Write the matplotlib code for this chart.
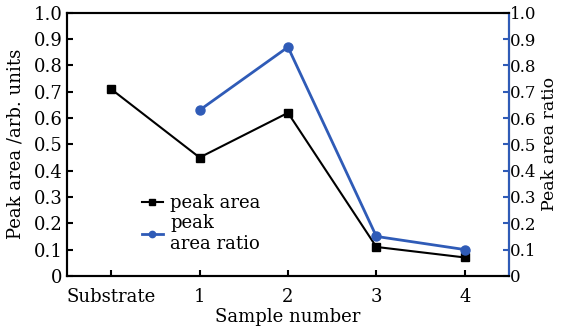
import matplotlib.pyplot as plt

categories = ["Substrate", "1", "2", "3", "4"]
peak_area = [0.71, 0.45, 0.62, 0.11, 0.07]
ratio_x = [1, 2, 3, 4]
peak_area_ratio = [0.63, 0.87, 0.15, 0.10]
yticks = [0, 0.1, 0.2, 0.3, 0.4, 0.5, 0.6, 0.7, 0.8, 0.9, 1.0]
ytick_labels = ["0", "0.1", "0.2", "0.3", "0.4", "0.5", "0.6", "0.7", "0.8", "0.9", "1.0"]

blue = "#2f5bb7"
plt.rcParams["font.family"] = ["DejaVu Serif"]
plt.rcParams["font.size"] = 13

fig = plt.figure(figsize=(5.63, 3.3), dpi=100)
ax = fig.add_axes([0.119, 0.164, 0.785, 0.797])
ax2 = ax.twinx()

l1, = ax.plot(range(len(categories)), peak_area, color="black", marker="s",
              markersize=6, linewidth=1.5, label="peak area")
l2, = ax2.plot(ratio_x, peak_area_ratio, color=blue, marker="o",
               markersize=6.5, linewidth=2, label="peak\narea ratio")

ax.set_xlim(-0.5, 4.5)
ax.set_ylim(0, 1.0)
ax2.set_ylim(0, 1.0)
ax.set_xticks(range(len(categories)))
ax.set_xticklabels(categories)
ax.set_yticks(yticks)
ax.set_yticklabels(ytick_labels)
ax2.set_yticks(yticks)
ax2.set_yticklabels(ytick_labels, fontsize=12)

ax.tick_params(direction="in", length=4, width=1.5, pad=3)
ax.tick_params(axis="x", pad=9)
ax2.tick_params(direction="in", length=4, width=1.5, color=blue, pad=1)
for s in ax.spines.values():
    s.set_linewidth(1.5)
for s in ax2.spines.values():
    s.set_linewidth(1.5)
ax2.spines["right"].set_color(blue)

ax.set_xlabel("Sample number", labelpad=1)
ax.set_ylabel("Peak area /arb. units", labelpad=7)
ax2.set_ylabel("Peak area ratio", labelpad=3, fontsize=12.5)

ax.legend(handles=[l1, l2], loc="lower left", bbox_to_anchor=(0.14, 0.04),
          frameon=False, handlelength=1.2, handletextpad=0.4,
          labelspacing=0.1, borderpad=0.2, markerscale=0.7)

fig.savefig("out.png", dpi=100)
